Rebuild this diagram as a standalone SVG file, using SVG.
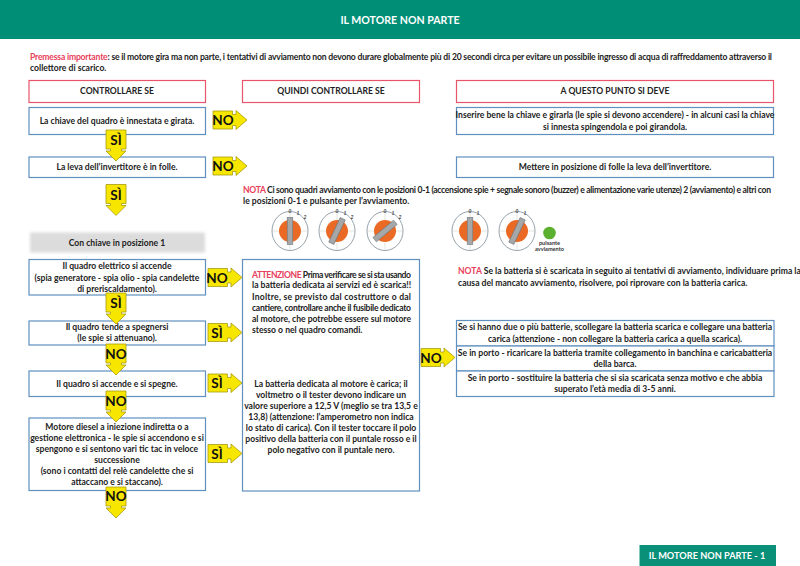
<svg xmlns="http://www.w3.org/2000/svg" width="800" height="566" viewBox="0 0 800 566">
<style>
text{font-family:"Lato","Liberation Sans",sans-serif;font-weight:700;font-size:8.6px;fill:#222;text-anchor:middle}
.l{text-anchor:start}
.r{fill:#e8405a}
.h{fill:#fff;font-size:10.6px}
.bl{fill:#fff;stroke:#5f90c0;stroke-width:1.2}
.rd{fill:#fff;stroke:#e8556a;stroke-width:1.2}
.cal{fill:#f7e600;stroke:#a89c10;stroke-width:.8}
.ct{font-size:13.5px;fill:#111;font-weight:700}
.n{font-size:5px;font-style:italic;fill:#444}
.s{font-size:5.6px;fill:#333}
</style>
<defs>
<path id="ar" class="cal" d="M0 0H19.500V3.500H23V-.5L34 9L23 18.500V14.500H19.500V18H0Z"/>
<path id="ad" class="cal" d="M0 0H20V19H15.500V21H20L10 31L0 21H4.500V19H0Z"/>
<filter id="bb" x="-5%" y="-20%" width="110%" height="140%"><feGaussianBlur stdDeviation="1.5"/></filter>
<g id="dial">
<ellipse rx="18" ry="19.500" fill="#fff" stroke="#8a97a3" stroke-width=".9"/>
<path d="M-18 0H18M0 -19.500V19.500" stroke="#c8c4b4" stroke-width=".5"/>
<circle r="11" fill="#ea6a25"/>
</g>
<rect id="bar" x="-2.800" y="-13.500" width="5.600" height="27" fill="#a5a7a8" stroke="#6f7478" stroke-width=".6"/>
</defs>

<rect id="header" width="800" height="39" fill="#008e76"/>
<text class="h" x="400" y="23.500">IL MOTORE NON PARTE</text>

<g id="premessa">
<text class="l" x="30" y="59.500" textLength="742"><tspan class="r">Premessa importante</tspan>: se il motore gira ma non parte, i tentativi di avviamento non devono durare globalmente più di 20 secondi circa per evitare un possibile ingresso di acqua di raffreddamento attraverso il</text>
<text class="l" x="30" y="70.500">collettore di scarico.</text>
</g>

<g id="connectors">
<use href="#ar" x="213" y="111"/>
<use href="#ar" x="213" y="157"/>
<use href="#ar" x="208" y="268.500"/>
<use href="#ar" x="208" y="323.500"/>
<use href="#ar" x="208" y="374"/>
<use href="#ar" x="208" y="444.500"/>
<use href="#ar" x="421" y="348.500"/>
</g>

<g id="h1"><rect class="rd" x="29" y="80.500" width="176.500" height="22"/><text x="117" y="94">CONTROLLARE SE</text></g>
<g id="h2"><rect class="rd" x="242.500" y="80.500" width="177" height="22"/><text x="331" y="94">QUINDI CONTROLLARE SE</text></g>
<g id="h3"><rect class="rd" x="456.500" y="80.500" width="317" height="22"/><text x="615" y="94">A QUESTO PUNTO SI DEVE</text></g>

<g id="n1"><rect class="bl" x="29" y="107.500" width="176.500" height="27"/><text x="117" y="124">La chiave del quadro è innestata e girata.</text></g>
<g id="a1"><rect class="bl" x="456.500" y="107.500" width="317" height="27"/><text x="615" y="118">Inserire bene la chiave e girarla (le spie si devono accendere)  - in alcuni casi la chiave</text><text x="615" y="129.500">si innesta spingendola e poi girandola.</text></g>
<g id="n2"><rect class="bl" x="29" y="157" width="176.500" height="20.500"/><text x="117" y="170">La leva dell’invertitore è in folle.</text></g>
<g id="a2"><rect class="bl" x="456.500" y="157" width="317" height="20.500"/><text x="615" y="170">Mettere in posizione di folle la leva dell’invertitore.</text></g>

<g id="nota1">
<text class="l" x="243" y="193" textLength="528"><tspan class="r">NOTA</tspan> Ci sono quadri avviamento con le posizioni 0-1 (accensione spie + segnale sonoro (buzzer) e alimentazione varie utenze) 2 (avviamento) e altri con</text>
<text class="l" x="243" y="204">le posizioni 0-1 e pulsante per l’avviamento.</text>
</g>

<g id="dials">
<use href="#dial" x="290" y="231"/><use href="#bar" transform="translate(290 231)"/>
<use href="#dial" x="337" y="231"/><use href="#bar" transform="translate(337 231) rotate(25)"/>
<use href="#dial" x="385" y="231"/><use href="#bar" transform="translate(385 231) rotate(50)"/>
<use href="#dial" x="470" y="231"/><use href="#bar" transform="translate(470 231)"/>
<use href="#dial" x="517" y="231"/><use href="#bar" transform="translate(517 231) rotate(25)"/>
<text class="n" x="290" y="213">0</text><text class="n" x="298" y="214.500">1</text><text class="n" x="305" y="219">2</text>
<text class="n" x="337" y="213">0</text><text class="n" x="345" y="214.500">1</text><text class="n" x="352" y="219">2</text>
<text class="n" x="385" y="213">0</text><text class="n" x="393" y="214.500">1</text><text class="n" x="400" y="219">2</text>
<text class="n" x="470" y="213">0</text><text class="n" x="478" y="214.500">1</text>
<text class="n" x="517" y="213">0</text><text class="n" x="525" y="214.500">1</text>
<circle cx="549.500" cy="233" r="6.300" fill="#5cb030"/>
<text class="s" x="549.500" y="245">pulsante</text><text class="s" x="549.500" y="250.500">avviamento</text>
</g>

<g id="banda"><rect x="30" y="232.500" width="175" height="20" fill="#dcdcdc" filter="url(#bb)"/><text x="117" y="246">Con chiave in posizione 1</text></g>

<g id="n3"><rect class="bl" x="29" y="259.500" width="176.500" height="35.500"/><text x="117" y="269">Il quadro elettrico si accende</text><text x="117" y="280.500">(spia generatore - spia olio - spia candelette</text><text x="117" y="291.500">di preriscaldamento).</text></g>
<g id="n4"><rect class="bl" x="29" y="321" width="176.500" height="24"/><text x="117" y="330">Il quadro tende a spegnersi</text><text x="117" y="341">(le spie si attenuano).</text></g>
<g id="n5"><rect class="bl" x="29" y="371" width="176.500" height="25.500"/><text x="117" y="386.500">Il quadro si accende e si spegne.</text></g>
<g id="n6"><rect class="bl" x="29" y="418" width="176.500" height="72.500"/>
<text x="117" y="429.500">Motore diesel a iniezione indiretta o a</text><text x="117" y="440.500">gestione elettronica - le spie si accendono e si</text><text x="117" y="451.500">spengono e si sentono vari tic tac in veloce</text><text x="117" y="463">successione</text><text x="117" y="474">(sono i contatti del relè candelette che si</text><text x="117" y="485">attaccano e si staccano).</text></g>

<g id="n7"><rect class="bl" x="242.500" y="259.500" width="177" height="231.500"/>
<text class="l" x="252" y="277.500" textLength="159"><tspan class="r">ATTENZIONE</tspan> Prima verificare se si sta usando</text>
<text class="l" x="252" y="288">la batteria dedicata ai servizi ed è scarica!!</text>
<text class="l" x="252" y="299.500" textLength="159">Inoltre, se previsto dal costruttore o dal</text>
<text class="l" x="252" y="310.500" textLength="159">cantiere, controllare anche il fusibile dedicato</text>
<text class="l" x="252" y="321.500" textLength="159">al motore, che potrebbe essere sul motore</text>
<text class="l" x="252" y="333">stesso o nel quadro comandi.</text>
<text x="331" y="387">La batteria dedicata al motore è carica; il</text>
<text x="331" y="398">voltmetro o il tester devono indicare un</text>
<text x="331" y="409">valore superiore a 12,5 V (meglio se tra 13,5 e</text>
<text x="331" y="420">13,8) (attenzione: l’amperometro non indica</text>
<text x="331" y="431">lo stato di carica). Con il tester toccare il polo</text>
<text x="331" y="442">positivo della batteria con il puntale rosso e il</text>
<text x="331" y="453">polo negativo con il puntale nero.</text></g>

<g id="nota2">
<text class="l" x="458" y="274"><tspan class="r">NOTA</tspan> Se la batteria si è scaricata in seguito ai tentativi di avviamento, individuare prima la</text>
<text class="l" x="458" y="285.500">causa del mancato avviamento, risolvere, poi riprovare con la batteria carica.</text>
</g>

<g id="a3"><rect class="bl" x="456.500" y="320.500" width="317.500" height="25.500"/><text x="615" y="330">Se si hanno due o più batterie, scollegare la batteria scarica e collegare una batteria</text><text x="615" y="341.500">carica (attenzione - non collegare la batteria carica a quella scarica).</text></g>
<g id="a4"><rect class="bl" x="456.500" y="346" width="317.500" height="25"/><text x="615" y="355.500">Se in porto - ricaricare la batteria tramite collegamento in banchina e caricabatteria</text><text x="615" y="366.500">della barca.</text></g>
<g id="a5"><rect class="bl" x="456.500" y="371" width="317.500" height="25.500"/><text x="615" y="380.500">Se in porto - sostituire la batteria che si sia scaricata senza motivo e che abbia</text><text x="615" y="391.500">superato l’età media di 3-5 anni.</text></g>

<g id="labels">
<use href="#ad" x="106" y="130"/><text class="ct" x="116" y="145">SÌ</text>
<use href="#ad" x="106" y="184.500"/><text class="ct" x="116" y="199.500">SÌ</text>
<use href="#ad" x="106" y="293"/><text class="ct" x="116" y="308">SÌ</text>
<use href="#ad" x="106" y="344"/><text class="ct" x="116" y="359">NO</text>
<use href="#ad" x="106" y="391"/><text class="ct" x="116" y="405.500">NO</text>
<use href="#ad" x="106" y="487"/><text class="ct" x="116" y="501">NO</text>
<text class="ct" x="223" y="125">NO</text>
<text class="ct" x="223" y="171">NO</text>
<text class="ct" x="217" y="283">NO</text>
<text class="ct" x="217" y="337.500">SÌ</text>
<text class="ct" x="217" y="388">SÌ</text>
<text class="ct" x="217" y="459">SÌ</text>
<text class="ct" x="431" y="362.500">NO</text>
</g>

<g id="footer"><rect x="639.500" y="545" width="136.500" height="21" fill="#0a8f78"/><text x="707" y="559" style="fill:#fff;font-size:9.200px">IL MOTORE NON PARTE - 1</text></g>
</svg>
